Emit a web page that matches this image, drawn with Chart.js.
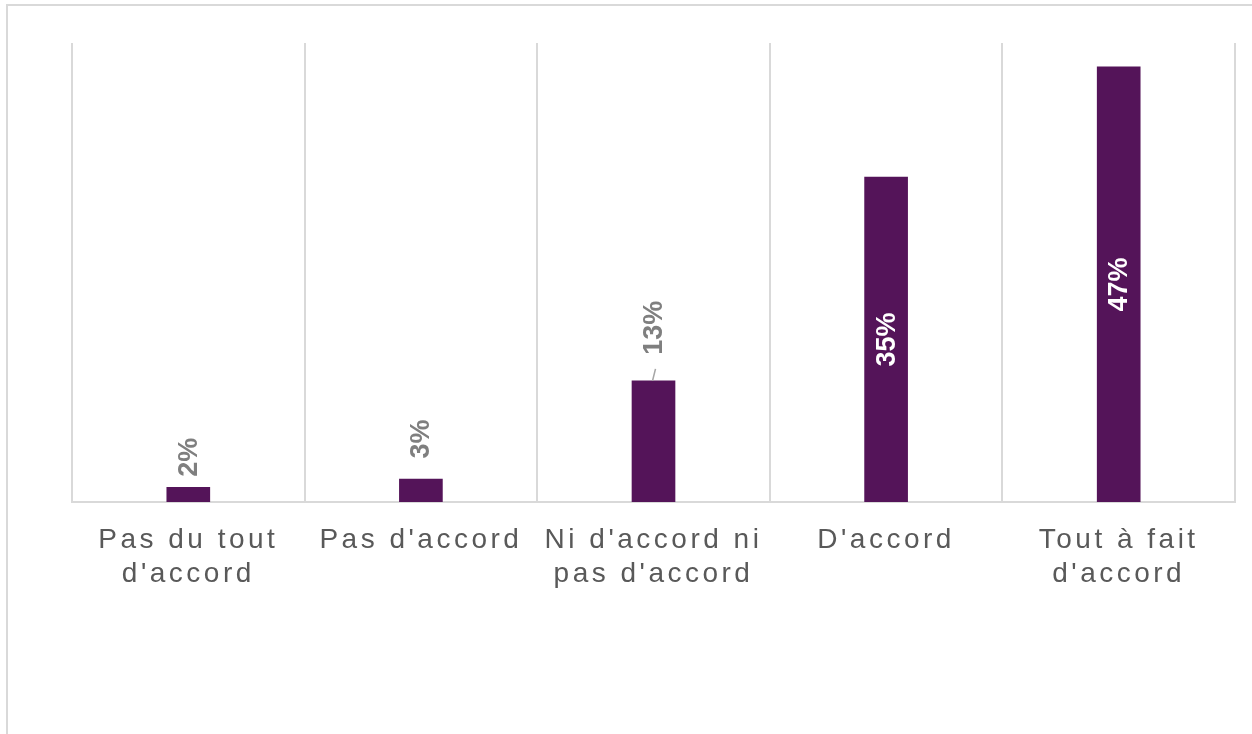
<!DOCTYPE html>
<html>
<head>
<meta charset="utf-8">
<script src="https://cdn.jsdelivr.net/npm/chart.js@4/dist/chart.umd.min.js"></script>
<style>
  html, body { margin: 0; padding: 0; background: #fff; }
  #wrap { width: 1252px; height: 734px; position: relative; }
</style>
</head>
<body>
<div id="wrap"><canvas id="chart"></canvas></div>
<script>
// données du graphique
const categories = [
  ['Pas du tout', "d'accord"],
  "Pas d'accord",
  ["Ni d'accord ni", "pas d'accord"],
  "D'accord",
  ['Tout à fait', "d'accord"]
];
const values = [1.6, 2.5, 13.2, 35.4, 47.4];
const yMax = 50;

const barColor = '#541459';
const gridColor = '#d9d9d9';

// cadre gris autour du graphique + espacement des lettres des axes
const framePlugin = {
  id: 'frame',
  beforeLayout(chart) {
    chart.ctx.letterSpacing = '3.5px';
  },
  beforeDraw(chart) {
    const ctx = chart.ctx;
    ctx.letterSpacing = '3.5px';
    ctx.save();
    ctx.strokeStyle = gridColor;
    ctx.lineWidth = 2;
    ctx.beginPath();
    ctx.moveTo(7, 734);
    ctx.lineTo(7, 5);
    ctx.lineTo(1252, 5);
    ctx.stroke();
    ctx.restore();
  },
  beforeDatasetsDraw(chart) {
    chart.ctx.letterSpacing = '0px';
  }
};

// étiquettes de valeurs, pivotées à la verticale
const valueLabels = {
  id: 'valueLabels',
  afterDatasetsDraw(chart, args, opts) {
    const ctx = chart.ctx;
    const meta = chart.getDatasetMeta(0);
    ctx.save();
    ctx.letterSpacing = '0px';
    ctx.font = 'bold 27px "Liberation Sans", Arial, sans-serif';
    ctx.textAlign = 'center';
    ctx.textBaseline = 'middle';
    meta.data.forEach((bar, i) => {
      const v = values[i];
      const text = Math.round(v) + '%';
      let cy;
      if (v >= opts.insideFrom) {
        cy = (bar.y + bar.base) / 2;
        ctx.fillStyle = '#ffffff';
      } else {
        cy = bar.y - opts.offsets[i];
        ctx.fillStyle = '#7f7f7f';
        if (opts.offsets[i] > 45) {
          // trait de rappel
          ctx.strokeStyle = '#a6a6a6';
          ctx.lineWidth = 1.5;
          ctx.beginPath();
          ctx.moveTo(bar.x - 1, bar.y);
          ctx.lineTo(bar.x + 2, bar.y - 12);
          ctx.stroke();
        }
      }
      ctx.save();
      ctx.translate(bar.x, cy);
      ctx.rotate(-Math.PI / 2);
      ctx.fillText(text, 0, 1);
      ctx.restore();
    });
    ctx.restore();
  }
};

new Chart(document.getElementById('chart'), {
  type: 'bar',
  data: {
    labels: categories,
    datasets: [{
      data: values,
      backgroundColor: barColor,
      barThickness: 43
    }]
  },
  options: {
    responsive: true,
    maintainAspectRatio: false,
    animation: false,
    layout: { padding: { left: 72, right: 17, top: 43, bottom: 0 } },
    plugins: {
      legend: { display: false },
      tooltip: { enabled: false },
      valueLabels: { insideFrom: 30, offsets: [30, 40, 53, 0, 0] }
    },
    scales: {
      x: {
        offset: true,
        grid: { offset: true, color: gridColor, lineWidth: 2, drawTicks: false },
        border: { color: gridColor, width: 2 },
        ticks: {
          color: '#595959',
          padding: 21,
          maxRotation: 0,
          autoSkip: false,
          font: { family: '"Liberation Sans", Arial, sans-serif', size: 28, lineHeight: 1.21 }
        },
        afterFit(scale) { scale.height = 232; }
      },
      y: {
        display: false,
        min: 0,
        max: yMax
      }
    }
  },
  plugins: [framePlugin, valueLabels]
});
</script>
</body>
</html>
